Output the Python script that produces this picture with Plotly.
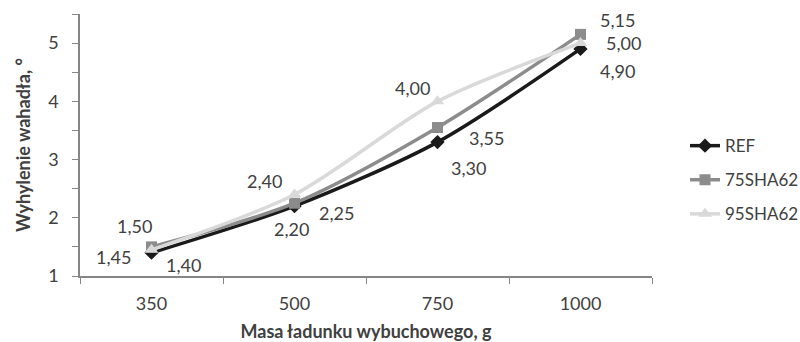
import plotly.graph_objects as go

categories = ["350", "500", "750", "1000"]
ref_vals = [1.40, 2.20, 3.30, 4.90]
sha75_vals = [1.50, 2.25, 3.55, 5.15]
sha95_vals = [1.45, 2.40, 4.00, 5.00]
series_names = ["REF", "75SHA62", "95SHA62"]

x_title = "Masa ładunku wybuchowego, g"
y_title = "Wyhylenie wahadła, °"

FONT = "Lato, Carlito, Calibri, sans-serif"
FS = 18
TXT = "#404040"
AX = "#868686"

styles = [
    dict(color="#1a1a1a", symbol="diamond", size=11),
    dict(color="#8c8c8c", symbol="square", size=11),
    dict(color="#d9d9d9", symbol="triangle-up", size=12),
]
# label offsets in pixels (dx right, dy down) per series / point
label_offsets = [
    [(32, 12), (-3, 23), (31, 26), (37, 22)],
    [(-17, -21), (42, 10), (49, 10), (37, -14)],
    [(-38, 7), (-30, -13), (-25, -13), (43, 0)],
]

fig = go.Figure()
all_vals = [ref_vals, sha75_vals, sha95_vals]
for i, (name, vals) in enumerate(zip(series_names, all_vals)):
    st = styles[i]
    fig.add_trace(go.Scatter(
        x=categories, y=vals, name=name, mode="lines+markers",
        legendgroup=name,
        line=dict(color=st["color"], width=3.5, shape="spline", smoothing=0.8),
        marker=dict(color=st["color"], symbol=st["symbol"], size=st["size"]),
        cliponaxis=False,
    ))
    for j, v in enumerate(vals):
        dx, dy = label_offsets[i][j]
        fig.add_annotation(
            x=j, y=v, xref="x", yref="y", text=f"{v:.2f}".replace(".", ","),
            showarrow=False, xshift=dx, yshift=-dy,
            xanchor="center", yanchor="middle",
            font=dict(family=FONT, size=FS, color=TXT),
        )

fig.update_layout(
    width=800, height=342,
    margin=dict(l=80, r=148, t=14, b=66, autoexpand=False),
    paper_bgcolor="white", plot_bgcolor="white",
    font=dict(family=FONT, size=FS, color=TXT),
    showlegend=True,
    legend=dict(x=1.0577, y=0.366, xanchor="left", yanchor="middle",
                tracegroupgap=9, font=dict(family=FONT, size=17, color=TXT),
                bgcolor="rgba(0,0,0,0)"),
    xaxis=dict(
        type="category", range=[-0.5, 3.5], showgrid=False, automargin=False,
        showline=True, linecolor=AX, linewidth=1.5,
        ticks="outside", tickson="boundaries", ticklen=6, tickcolor=AX,
        tickfont=dict(family=FONT, size=FS, color=TXT),
        ticklabelstandoff=11,
        title=dict(text=f"<b>{x_title}</b>", standoff=14,
                   font=dict(family=FONT, size=FS, color=TXT)),
    ),
    yaxis=dict(
        range=[1, 5.5], dtick=1, tick0=1, showgrid=False, zeroline=False, automargin=False,
        showline=True, linecolor=AX, linewidth=1.5,
        ticks="outside", ticklen=6, tickcolor=AX,
        minor=dict(dtick=0.5, tick0=1, ticks="outside", ticklen=6, tickcolor=AX, showgrid=False),
        tickfont=dict(family=FONT, size=FS, color=TXT),
        ticklabelstandoff=10,
        title=dict(text=f"<b>{y_title}</b>", standoff=13,
                   font=dict(family=FONT, size=FS, color=TXT)),
    ),
)

fig.write_html("out.html")
